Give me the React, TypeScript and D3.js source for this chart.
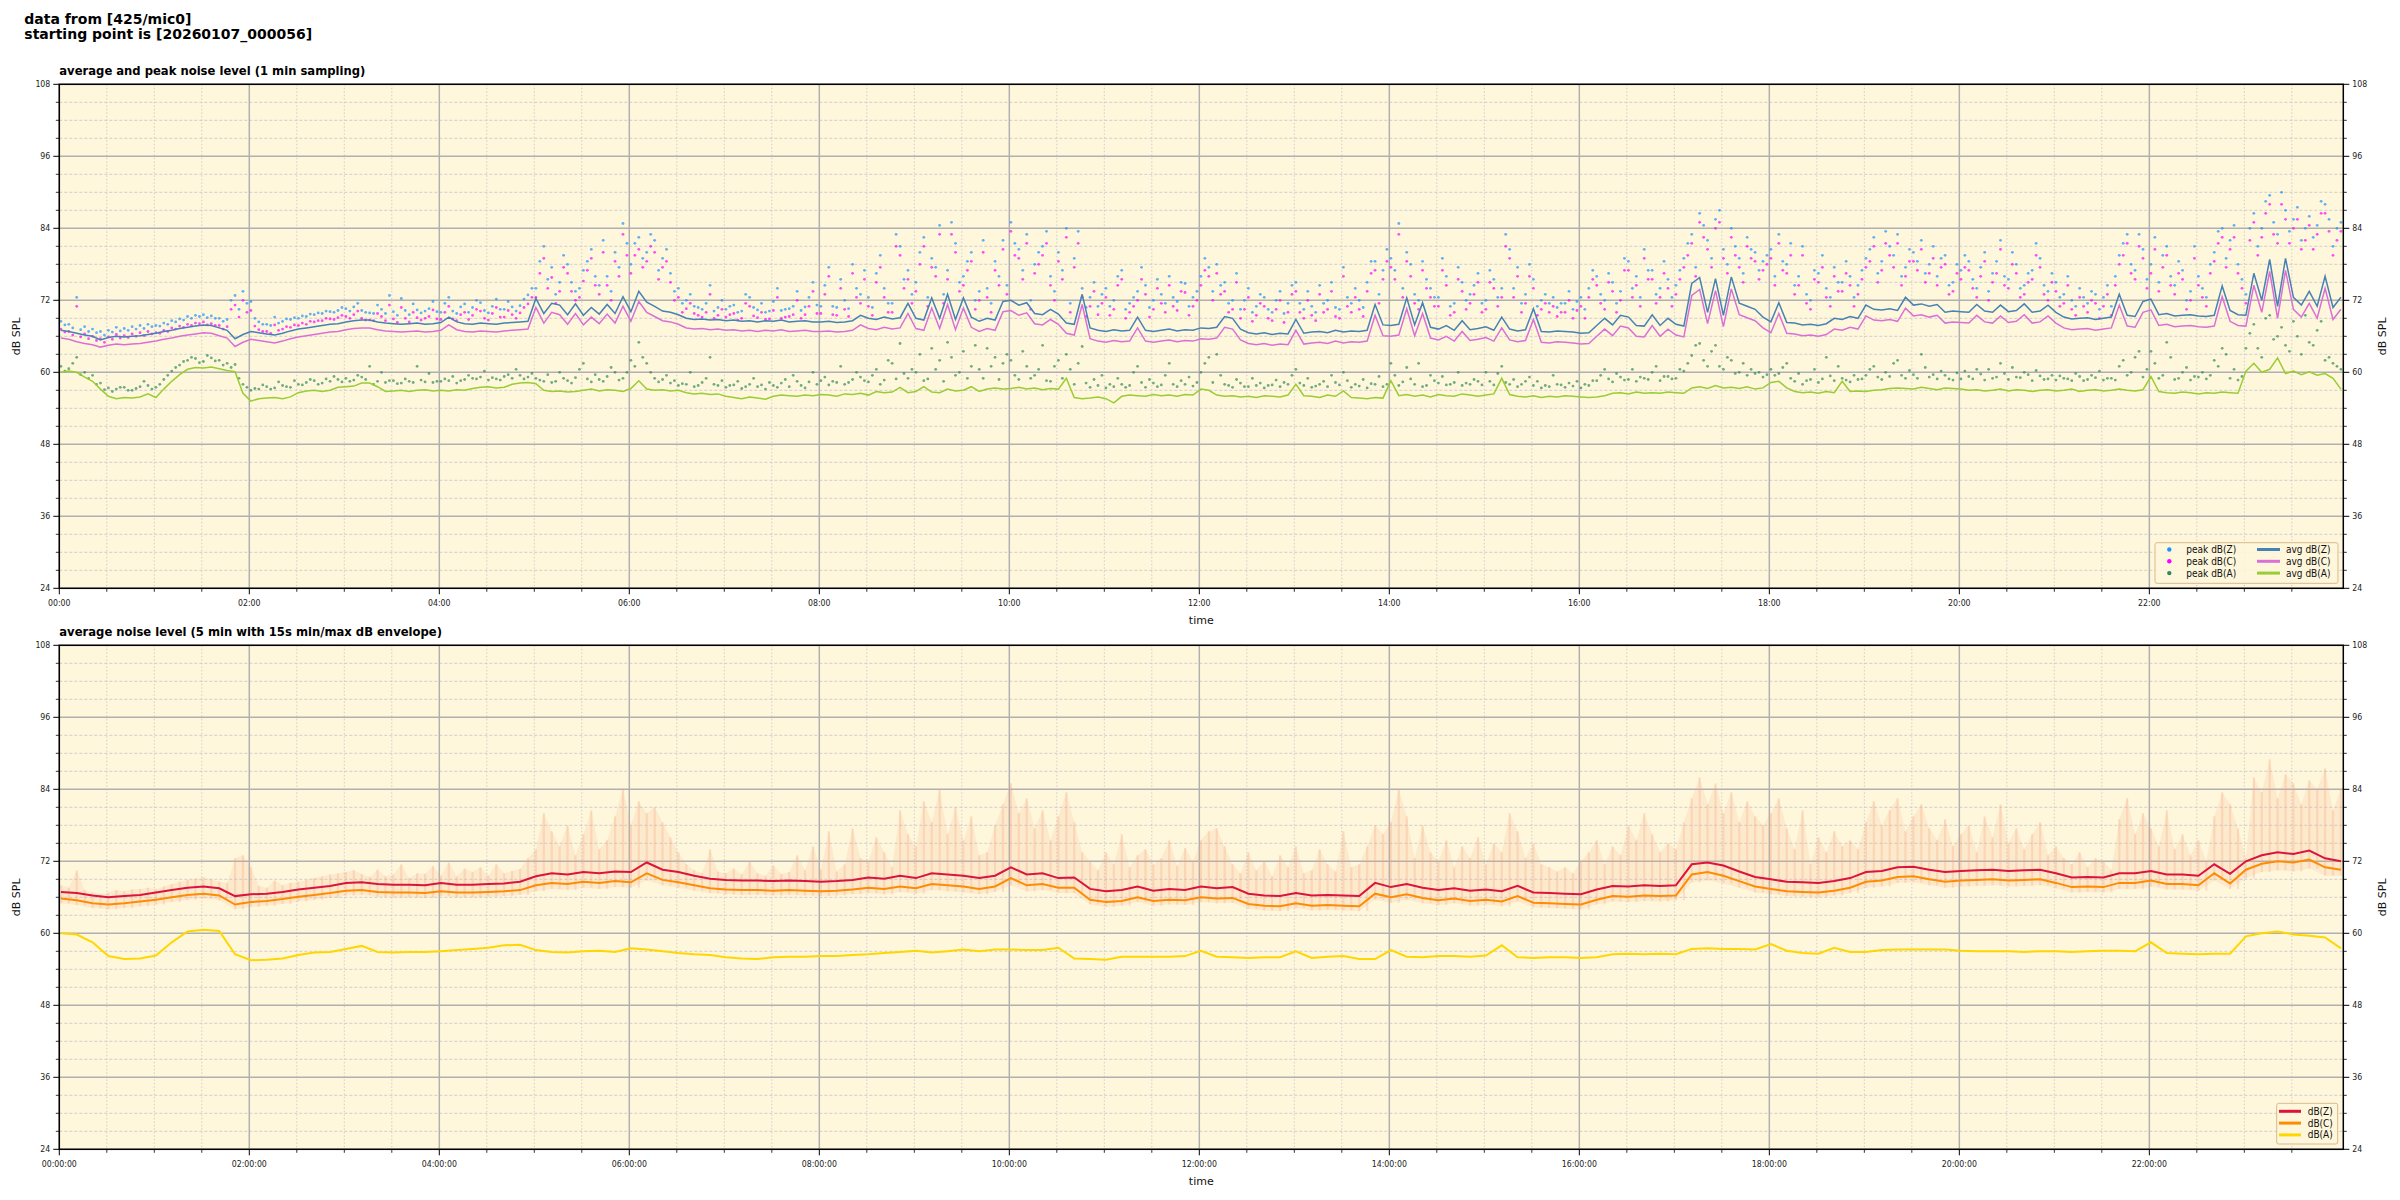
import React from "react";
import * as d3 from "d3";

// ---------------- DATA ----------------
const suptitleLines = ["data from [425/mic0]", "starting point is [20260107_000056]"];
const topTitle = "average and peak noise level (1 min sampling)";
const bottomTitle = "average noise level (5 min with 15s min/max dB envelope)";
const yTicks = [24, 36, 48, 60, 72, 84, 96, 108];
const xTickHours = [0, 2, 4, 6, 8, 10, 12, 14, 16, 18, 20, 22];

// top plot, 5-minute samples starting 00:01
const avgZ = [
  67.0, 66.8, 66.5, 66.2, 66.0, 65.4, 65.8, 66.0, 65.9, 66.0, 66.1, 66.3,
  66.5, 66.8, 67.0, 67.3, 67.5, 67.7, 67.9, 67.8, 67.4, 67.0, 65.6, 66.3,
  66.8, 66.6, 66.4, 66.2, 66.5, 66.9, 67.2, 67.4, 67.6, 67.8, 68.0, 68.1,
  68.4, 68.6, 68.7, 68.7, 68.4, 68.2, 68.1, 68.0, 68.1, 68.2, 68.0, 68.1,
  68.3, 69.2, 68.4, 68.1, 68.0, 68.2, 68.1, 68.0, 68.2, 68.3, 68.4, 68.5,
  72.3, 69.8, 71.5, 71.2, 69.6, 71.4, 69.5, 70.8, 69.7, 71.3, 69.8, 72.6,
  70.1, 73.5, 71.7, 71.0, 70.2, 70.0, 69.6, 69.0, 68.8, 68.9, 68.7, 68.8,
  68.6, 68.7, 68.5, 68.6, 68.4, 68.6, 68.5, 68.7, 68.4, 68.5, 68.6, 68.4,
  68.4, 68.5, 68.3, 68.4, 68.6, 69.5, 69.0, 68.8, 69.2, 68.9, 69.1, 71.5,
  69.0, 68.7, 72.4, 69.0, 73.0, 68.8, 72.4, 69.2, 68.5, 69.0, 68.7, 71.8,
  72.0, 71.2, 71.6, 69.8, 69.6, 70.5, 69.7, 68.2, 68.0, 73.0, 67.4, 67.0,
  66.8, 67.1, 66.9, 67.0, 69.2, 67.0, 66.8, 67.0, 67.2, 66.9, 67.1, 67.0,
  67.4, 67.3, 67.5, 69.3, 69.0, 67.2, 66.6, 66.4, 66.6, 66.3, 66.5, 66.4,
  68.8, 66.5, 66.7, 66.8, 66.6, 67.0, 66.7, 66.9, 66.8, 67.0, 71.3, 67.9,
  67.8, 68.0, 72.4, 67.9, 71.6, 67.5, 67.2, 67.8, 67.0, 68.6, 67.1, 67.3,
  67.6, 67.0, 69.2, 67.2, 66.9, 67.1, 70.6, 66.8, 66.7, 66.9, 66.8, 66.7,
  66.5, 66.6, 67.8, 69.0, 67.9, 69.5, 69.2, 67.8, 67.7, 69.6, 67.8, 69.0,
  68.0, 67.7, 74.8, 75.8, 70.0, 75.6, 69.5, 75.9, 71.5, 71.0, 70.5, 69.2,
  68.4, 71.6, 68.3, 68.2, 67.9, 68.0, 67.8, 68.1, 69.0, 68.8, 69.3, 69.0,
  71.2, 70.5, 70.4, 70.6, 70.3, 72.5, 71.2, 71.4, 71.0, 71.3, 70.0, 70.2,
  70.1, 70.0, 71.3, 70.2, 70.0, 71.2, 70.1, 70.3, 71.4, 70.0, 70.2, 71.2,
  70.0, 69.2, 68.9, 69.0, 69.1, 68.8, 69.0, 69.2, 73.0, 69.5, 69.3, 71.8,
  72.2, 69.6, 69.8, 69.4, 69.5, 69.6, 69.4, 69.3, 69.5, 74.4, 70.3, 69.6,
  69.5, 76.5, 72.0, 78.8, 71.0, 79.0, 72.5, 71.2, 73.5, 71.0, 76.0, 70.8,
  72.5,
];
const avgC = [
  65.7, 65.5, 65.1, 64.8, 64.6, 64.2, 64.5, 64.7, 64.6, 64.7, 64.8, 65.0,
  65.2, 65.5, 65.7, 66.0, 66.2, 66.4, 66.6, 66.5, 66.1, 65.7, 64.3, 65.0,
  65.5, 65.3, 65.1, 64.9, 65.2, 65.6, 65.9, 66.1, 66.3, 66.5, 66.7, 66.8,
  67.1, 67.3, 67.4, 67.4, 67.1, 66.9, 66.8, 66.7, 66.8, 66.9, 66.7, 66.8,
  67.0, 67.9, 67.1, 66.8, 66.7, 66.9, 66.8, 66.7, 66.9, 67.0, 67.1, 67.2,
  70.8, 68.2, 70.0, 69.6, 68.0, 69.8, 67.9, 69.2, 68.1, 69.7, 68.2, 71.0,
  68.5, 71.8, 70.0, 69.3, 68.6, 68.4, 68.0, 67.4, 67.2, 67.3, 67.1, 67.2,
  67.0, 67.1, 66.9, 67.0, 66.8, 67.0, 66.9, 67.1, 66.8, 66.9, 67.0, 66.8,
  66.8, 66.9, 66.7, 66.8, 67.0, 67.9, 67.3, 67.1, 67.5, 67.2, 67.4, 69.8,
  67.3, 67.0, 70.7, 67.3, 71.3, 67.1, 70.7, 67.5, 66.8, 67.3, 67.0, 70.1,
  70.3, 69.5, 69.9, 68.1, 67.9, 68.8, 68.0, 66.5, 66.2, 71.3, 65.6, 65.2,
  65.0, 65.3, 65.1, 65.2, 67.4, 65.2, 65.0, 65.2, 65.4, 65.1, 65.3, 65.2,
  65.6, 65.5, 65.7, 67.5, 67.2, 65.4, 64.8, 64.6, 64.8, 64.5, 64.7, 64.6,
  67.0, 64.7, 64.9, 65.0, 64.8, 65.2, 64.9, 65.1, 65.0, 65.2, 69.5, 66.1,
  66.0, 66.2, 70.6, 66.1, 69.8, 65.7, 65.4, 66.0, 65.2, 66.8, 65.3, 65.5,
  65.8, 65.2, 67.4, 65.4, 65.1, 65.3, 68.8, 65.0, 64.9, 65.1, 65.0, 64.9,
  64.7, 64.8, 66.0, 67.2, 66.1, 67.7, 67.4, 66.0, 65.9, 67.8, 66.0, 67.2,
  66.2, 65.9, 72.8, 73.8, 68.1, 73.6, 67.6, 73.9, 69.6, 69.1, 68.6, 67.4,
  66.6, 69.8, 66.5, 66.4, 66.1, 66.2, 66.0, 66.3, 67.2, 67.0, 67.5, 67.2,
  69.4, 68.7, 68.6, 68.8, 68.5, 70.7, 69.4, 69.6, 69.2, 69.5, 68.2, 68.4,
  68.3, 68.2, 69.5, 68.4, 68.2, 69.4, 68.3, 68.5, 69.6, 68.2, 68.4, 69.4,
  68.2, 67.4, 67.1, 67.2, 67.3, 67.0, 67.2, 67.4, 71.2, 67.7, 67.5, 70.0,
  70.4, 67.8, 68.0, 67.6, 67.7, 67.8, 67.6, 67.5, 67.7, 72.6, 68.5, 67.8,
  67.7, 74.5, 70.0, 76.8, 69.0, 77.0, 70.5, 69.2, 71.5, 69.0, 74.0, 68.8,
  70.5,
];
const avgA = [
  60.0, 60.2, 60.0, 59.2, 58.5, 57.2, 56.0, 55.6, 55.8, 55.7, 55.9, 56.4,
  55.8, 57.2, 58.5, 59.6, 60.5, 60.8, 60.7, 60.9, 60.6, 60.3, 60.1, 56.5,
  55.2, 55.6, 55.7, 55.8, 55.6, 55.9, 56.6, 56.9, 57.0, 56.8, 57.0, 57.5,
  57.6, 57.7, 58.2, 58.2, 57.6, 56.8, 56.9, 57.0, 56.8, 57.0, 57.1, 56.9,
  57.0, 56.9, 57.1, 57.0, 57.3, 57.5, 57.6, 57.4, 57.5, 58.0, 58.2, 58.3,
  58.1, 57.0, 56.8, 56.9, 56.7, 56.8, 57.0, 57.2, 56.9, 57.1, 57.0, 56.8,
  57.3, 58.6, 57.2, 57.0, 57.1, 56.9, 57.0, 56.6, 56.4, 56.5, 56.3, 56.4,
  56.0, 55.8, 55.6, 55.9, 55.7, 55.5, 56.0, 56.2, 56.1, 56.0, 56.2, 56.1,
  56.3, 56.2, 56.0, 56.4, 56.3, 56.5, 56.2, 56.8, 56.6, 56.7, 57.5, 56.6,
  56.8, 57.6, 56.7, 56.6, 57.2, 56.9, 57.0, 57.6, 56.8, 57.2, 57.4, 57.2,
  57.3, 57.5, 57.2, 57.4, 57.1, 57.3, 57.2, 59.0, 55.8, 55.6, 55.7, 55.9,
  55.6, 54.9, 56.0, 56.2, 56.1, 56.0, 56.3, 56.1, 56.2, 56.0, 56.3, 56.2,
  57.2, 57.0, 56.2, 56.0, 56.1, 55.9, 56.0, 55.8, 56.1, 56.0, 55.9, 56.2,
  58.0, 56.1, 56.0, 55.8, 56.2, 56.0, 56.9, 55.8, 55.7, 55.6, 55.8, 55.7,
  58.6, 56.1, 56.3, 56.0, 56.2, 55.9, 56.3, 56.1, 56.0, 56.4, 56.2, 56.0,
  56.2, 56.4, 59.0, 56.3, 56.0, 55.9, 56.1, 55.8, 56.0, 55.9, 56.1, 56.0,
  55.9, 55.8, 55.9, 56.1, 56.5, 56.6, 56.4, 56.7, 56.5, 56.6, 56.5, 56.7,
  56.6, 56.5, 57.4, 57.6, 57.3, 57.8, 57.4, 57.5, 57.3, 57.6, 57.2, 57.4,
  58.3, 58.5, 57.4, 56.8, 56.6, 56.7, 56.5, 56.8, 56.6, 58.5, 56.8, 56.9,
  56.8, 57.0, 57.1, 57.3, 57.4, 57.3, 57.2, 57.5, 57.3, 57.1, 57.4, 57.3,
  57.2, 57.0, 57.1, 56.9, 57.0, 57.2, 56.9, 57.1, 57.0, 56.8, 57.0, 57.1,
  56.9, 57.0, 57.2, 56.8, 57.0, 57.1, 56.9, 57.0, 57.2, 57.0, 56.9, 57.1,
  59.3, 56.8, 56.6, 56.5, 56.7, 56.6, 56.4, 56.6, 56.5, 56.7, 56.6, 56.5,
  60.2, 61.5, 60.0, 60.5, 62.4, 59.8, 60.2, 59.6, 60.1, 59.5, 59.8, 59.0,
  57.2,
];
// peaks, 5-minute steps starting 00:01
const peakZ = [
  68.5, 68.0, 72.5, 67.6, 67.2, 66.8, 67.0, 67.5, 67.3, 67.6, 67.8, 68.0,
  67.8, 68.2, 68.6, 68.9, 69.3, 69.5, 69.6, 69.4, 69.0, 68.8, 72.8, 73.5,
  71.8, 68.4, 68.0, 69.2, 68.5, 68.8, 69.0, 69.3, 69.6, 69.8, 70.1, 70.3,
  70.6, 70.9, 70.3, 69.9, 71.2, 69.8, 70.1, 72.3, 69.6, 70.4, 70.2, 71.8,
  70.0, 72.5, 69.8, 71.4, 70.8, 71.6, 69.9, 72.2, 70.5, 70.9, 71.1, 72.9,
  74.0, 81.0, 77.5, 75.0, 78.0, 73.5, 77.0, 80.5, 74.5, 76.0, 80.0, 84.8,
  78.0, 82.5, 80.0, 82.0, 79.0, 76.5, 74.0, 72.0, 71.0, 70.5, 74.5, 70.8,
  70.5, 71.2, 70.2, 72.5, 70.4, 70.0, 71.8, 70.3, 70.6, 73.5, 70.9, 75.0,
  71.0, 77.5, 70.8, 72.0, 78.0, 73.0, 72.5, 76.5, 74.0, 71.5, 81.0, 77.0,
  75.0, 82.5, 79.0, 84.5, 77.0, 81.5, 76.0, 80.0, 73.5, 74.0, 78.5, 82.0,
  85.0, 80.5, 83.0, 78.0, 81.0, 76.0, 80.0, 84.0, 79.0, 74.0, 72.5, 71.0,
  74.0, 72.0, 77.0, 71.5, 73.5, 74.5, 72.0, 73.0, 76.0, 71.8, 74.8, 72.5,
  76.0, 77.5, 78.0, 75.0, 72.0, 70.5, 74.0, 71.0, 72.5, 70.0, 73.5, 71.5,
  75.0, 70.5, 71.0, 74.5, 72.0, 70.8, 77.5, 71.5, 72.0, 75.0, 78.5, 77.0,
  79.0, 84.8, 80.0, 73.0, 78.5, 74.0, 72.5, 76.0, 71.5, 75.0, 73.0, 76.5,
  72.0, 75.5, 74.0, 80.5, 77.5, 73.0, 75.5, 72.0, 71.5, 70.8, 71.5, 70.5,
  72.5, 74.0, 76.0, 72.0, 75.0, 73.5, 78.5, 76.0, 80.5, 77.0, 74.0, 75.5,
  74.5, 79.0, 83.0, 86.5, 82.0, 85.5, 80.5, 84.0, 79.0, 82.5, 80.0, 78.5,
  80.5, 83.0, 78.0, 74.5, 81.0, 72.0, 76.5, 74.0, 77.5, 75.0, 76.0, 74.5,
  79.0, 82.5, 78.5, 81.0, 83.0, 77.5, 80.0, 82.0, 78.0, 76.0, 79.5, 75.0,
  77.0, 78.5, 74.0, 80.0, 76.5, 82.0, 75.5, 78.0, 74.5, 77.0, 79.0, 73.5,
  75.0, 73.0, 72.0, 74.0, 71.5, 73.0, 72.5, 71.0, 79.5, 83.0, 77.0, 80.5,
  78.0, 75.0, 81.0, 74.5, 77.0, 73.5, 76.0, 72.5, 80.0, 84.0, 82.0, 78.0,
  73.0, 86.5, 84.0, 89.5, 83.0, 87.0, 85.5, 82.0, 86.0, 84.5, 88.0, 81.0,
  85.0,
];
const peakC = [
  67.2, 66.8, 71.0, 66.4, 66.0, 65.6, 65.9, 66.3, 66.1, 66.4, 66.6, 66.8,
  66.6, 67.0, 67.4, 67.7, 68.0, 68.2, 68.4, 68.1, 67.8, 67.6, 71.2, 72.0,
  70.3, 67.1, 66.8, 67.9, 67.2, 67.5, 67.8, 68.0, 68.4, 68.6, 68.9, 69.1,
  69.3, 69.6, 69.0, 68.7, 69.8, 68.6, 68.9, 70.8, 68.4, 69.1, 69.0, 70.4,
  68.8, 71.0, 68.6, 70.0, 69.5, 70.2, 68.7, 70.8, 69.2, 69.6, 69.9, 71.4,
  72.5, 79.0, 75.8, 73.5, 76.5, 72.0, 75.2, 79.0, 73.0, 74.5, 78.5, 83.0,
  76.5, 80.5, 78.5, 80.0, 77.5, 75.0, 72.5, 70.6, 69.8, 69.2, 73.0, 69.5,
  69.2, 69.8, 69.0, 71.0, 69.1, 68.8, 70.3, 69.0, 69.3, 72.0, 69.6, 73.5,
  69.8, 76.0, 69.5, 70.5, 76.5, 71.5, 71.0, 75.0, 72.5, 70.0, 79.5, 75.5,
  73.5, 81.0, 77.5, 83.0, 75.5, 80.0, 74.5, 78.5, 72.0, 72.5, 77.0, 80.5,
  83.5, 79.0, 81.5, 76.5, 79.5, 74.5, 78.5, 82.5, 77.5, 72.5, 71.0, 69.6,
  72.5, 70.5, 75.5, 70.0, 72.0, 73.0, 70.5, 71.5, 74.5, 70.3, 73.3, 71.0,
  74.5, 76.0, 76.5, 73.5, 70.5, 69.0, 72.5, 69.5, 71.0, 68.6, 72.0, 70.0,
  73.5, 69.0, 69.5, 73.0, 70.5, 69.3, 76.0, 70.0, 70.5, 73.5, 77.0, 75.5,
  77.5, 83.0, 78.5, 71.5, 77.0, 72.5, 71.0, 74.5, 70.0, 73.5, 71.5, 75.0,
  70.5, 74.0, 72.5, 79.0, 76.0, 71.5, 74.0, 70.5, 70.0, 69.3, 70.0, 69.0,
  71.0, 72.5, 74.5, 70.5, 73.5, 72.0, 77.0, 74.5, 79.0, 75.5, 72.5, 74.0,
  73.0, 77.5, 81.5, 85.0, 80.5, 84.0, 79.0, 82.5, 77.5, 81.0, 78.5, 77.0,
  79.0, 81.5, 76.5, 73.0, 79.5, 70.5, 75.0, 72.5, 76.0, 73.5, 74.5, 73.0,
  77.5, 81.0, 77.0, 79.5, 81.5, 76.0, 78.5, 80.5, 76.5, 74.5, 78.0, 73.5,
  75.5, 77.0, 72.5, 78.5, 75.0, 80.5, 74.0, 76.5, 73.0, 75.5, 77.5, 72.0,
  73.5, 71.5, 70.5, 72.5, 70.0, 71.5, 71.0, 69.5, 78.0, 81.5, 75.5, 79.0,
  76.5, 73.5, 79.5, 73.0, 75.5, 72.0, 74.5, 71.0, 78.5, 82.5, 80.5, 76.5,
  71.5, 85.0, 82.5, 88.0, 81.5, 85.5, 84.0, 80.5, 84.5, 83.0, 86.5, 79.5,
  83.5,
];
const peakA = [
  61.0, 60.6, 62.5, 60.0, 59.5, 58.2, 57.4, 57.2, 57.5, 57.0, 57.6, 57.8,
  57.5, 58.8, 60.2, 61.2, 62.0, 62.3, 61.8, 62.4, 62.0, 61.5, 61.3, 58.0,
  57.0, 57.2, 57.6, 57.4, 57.8, 57.5, 58.0, 58.3, 58.6, 58.2, 58.5, 58.8,
  59.0, 58.7, 59.2, 61.0, 58.5, 58.3, 58.6, 58.2, 58.5, 61.0, 58.4, 58.3,
  58.5, 58.6, 58.2, 58.8, 59.0, 59.2, 58.7, 58.9, 59.3, 59.0, 59.5, 59.2,
  59.0, 58.5, 58.3, 60.0, 58.6, 59.1, 61.5, 58.4, 58.8, 59.3, 60.0, 59.0,
  62.0, 65.0, 61.5, 59.0, 58.8, 58.2, 57.8, 58.0, 57.6, 58.3, 62.5, 57.8,
  57.5, 57.9, 57.3, 58.0, 57.6, 57.2, 57.8, 58.2, 57.6, 58.5, 57.4, 60.0,
  58.6, 57.9, 58.3, 58.0, 58.8, 59.2, 58.4, 60.5, 58.7, 61.5, 64.8, 59.0,
  60.0, 58.6, 64.0, 62.0, 65.0, 59.5, 63.5, 61.0, 60.5, 64.0, 62.5, 61.5,
  62.0, 58.8, 61.0, 59.5, 64.5, 58.5, 62.0, 63.0, 58.0, 64.3, 57.5, 57.8,
  57.4, 57.6, 58.0, 57.8, 61.0, 57.5, 58.2, 57.9, 61.5, 57.6, 58.0, 57.7,
  60.0, 62.5, 63.0, 58.0, 57.5, 58.2, 57.6, 57.8, 57.4, 57.9, 57.6, 58.0,
  60.5, 57.8, 57.5, 58.0, 57.6, 58.3, 60.0, 57.5, 57.7, 57.4, 58.0, 57.6,
  61.5, 57.8, 60.8, 58.0, 57.6, 59.5, 58.2, 57.9, 58.3, 57.8, 58.0, 58.5,
  60.0, 57.9, 61.0, 58.0, 57.6, 58.5, 57.8, 57.4, 57.6, 58.0, 57.5, 57.7,
  57.4, 57.8, 58.6, 60.5, 58.4, 59.2, 58.8, 58.5, 59.0, 60.0, 58.6, 59.3,
  59.0, 60.2, 62.8, 64.8, 61.0, 64.5, 60.5, 62.0, 60.0, 59.5, 59.8, 59.2,
  60.5, 59.8, 61.5, 58.5, 58.0, 58.8, 58.3, 62.5, 58.6, 59.0, 58.4, 58.8,
  59.5, 61.0, 58.8, 59.3, 62.0, 59.0, 59.6, 63.0, 59.2, 58.9, 59.5, 58.7,
  58.9, 59.3, 60.5, 58.7, 59.0, 61.5, 58.8, 59.2, 60.0, 58.6, 59.4, 58.9,
  58.7, 59.0, 58.6, 59.3, 58.8, 59.1, 58.7, 59.0, 61.0, 59.5, 62.5, 59.2,
  63.5, 59.0, 65.0, 58.8, 60.0, 58.7, 59.2, 58.9, 62.0, 64.0, 59.0, 58.7,
  64.0, 68.0, 62.5, 69.5, 66.0, 64.5, 68.5, 63.0, 65.0, 67.0, 62.0, 61.5,
  60.5,
];
// peaks, 5-minute steps starting 00:03:30 (in-between samples)
const peakZb = [
  67.9, 67.4, 67.1, 66.8, 66.6, 66.2, 66.7, 66.9, 67.0, 67.2, 67.3, 67.6,
  67.7, 68.0, 68.4, 68.7, 69.0, 69.3, 69.1, 69.0, 68.5, 72.0, 70.5, 71.5,
  69.0, 68.0, 67.8, 68.2, 68.9, 69.1, 69.4, 69.7, 69.9, 70.2, 70.0, 70.8,
  70.2, 71.5, 70.0, 69.8, 70.5, 72.8, 69.5, 70.3, 71.4, 69.9, 70.6, 70.1,
  71.5, 70.2, 70.9, 70.0, 72.0, 70.3, 71.0, 70.5, 71.8, 70.2, 72.2, 74.0,
  78.5, 75.5, 73.0, 79.5, 75.0, 74.0, 78.5, 76.0, 82.0, 73.5, 77.5, 81.5,
  81.5, 79.0, 83.0, 77.0, 80.5, 73.5, 71.5, 73.0, 70.8, 71.5, 70.2, 72.0,
  71.0, 70.0, 73.0, 70.8, 71.5, 70.2, 74.0, 70.5, 71.0, 70.3, 72.5, 71.2,
  74.5, 71.0, 75.5, 70.6, 74.0, 77.0, 70.8, 79.5, 71.5, 83.0, 75.5, 73.0,
  80.0, 72.5, 77.5, 73.0, 85.0, 75.0, 78.5, 72.0, 82.0, 71.5, 76.0, 74.5,
  81.5, 77.0, 72.0, 80.0, 83.5, 73.5, 77.0, 71.5, 83.5, 70.8, 75.0, 73.0,
  71.0, 76.0, 70.5, 72.5, 77.5, 70.8, 75.5, 71.5, 72.5, 75.0, 71.0, 73.5,
  79.0, 73.5, 74.5, 71.5, 76.5, 72.0, 70.0, 73.0, 70.5, 72.0, 69.8, 74.5,
  71.5, 73.5, 70.0, 71.5, 75.0, 70.5, 72.5, 74.0, 70.8, 78.5, 73.0, 80.5,
  77.0, 74.0, 78.0, 72.0, 75.5, 72.5, 79.0, 71.0, 77.5, 72.0, 74.5, 71.5,
  77.0, 72.5, 83.0, 74.0, 71.5, 78.0, 71.0, 73.0, 72.5, 71.5, 73.5, 71.8,
  70.5, 77.0, 73.0, 76.5, 71.5, 79.0, 74.0, 72.5, 77.0, 73.0, 78.5, 72.5,
  77.0, 81.5, 77.5, 84.5, 79.0, 87.0, 78.0, 81.0, 76.5, 80.5, 77.0, 79.5,
  76.0, 78.5, 81.5, 76.0, 73.0, 77.0, 79.5, 72.5, 75.0, 78.5, 72.5, 77.0,
  80.5, 76.5, 83.5, 79.5, 76.0, 80.5, 78.5, 76.5, 81.0, 79.0, 74.5, 78.0,
  79.5, 75.5, 77.5, 73.5, 78.5, 76.0, 80.0, 74.0, 76.5, 81.5, 74.5, 76.5,
  72.5, 76.0, 71.0, 72.5, 73.5, 70.5, 74.5, 76.0, 81.5, 78.0, 83.0, 75.5,
  82.5, 79.5, 76.0, 78.5, 72.0, 81.0, 74.0, 78.0, 83.5, 79.0, 84.5, 75.5,
  84.0, 81.0, 88.5, 85.0, 90.0, 83.5, 87.5, 84.0, 82.5, 88.5, 85.5, 84.0,
];
const peakCb = [
  66.7, 66.2, 65.9, 65.6, 65.3, 65.0, 65.5, 65.7, 65.8, 66.0, 66.1, 66.4,
  66.5, 66.8, 67.2, 67.5, 67.8, 68.1, 67.9, 67.8, 67.2, 70.5, 69.2, 70.0,
  67.7, 66.8, 66.5, 67.0, 67.6, 67.9, 68.2, 68.5, 68.6, 69.0, 68.8, 69.5,
  69.0, 70.2, 68.7, 68.6, 69.3, 71.2, 68.3, 69.0, 70.0, 68.7, 69.3, 68.9,
  70.0, 68.9, 69.6, 68.8, 70.5, 69.0, 69.8, 69.2, 70.3, 69.0, 70.8, 72.5,
  76.5, 74.0, 71.5, 77.5, 73.5, 72.5, 77.0, 74.5, 80.0, 72.0, 76.0, 79.5,
  79.5, 77.5, 81.0, 75.5, 78.5, 72.0, 70.0, 71.5, 69.5, 70.0, 69.0, 70.5,
  69.6, 68.7, 71.5, 69.4, 70.0, 68.9, 72.5, 69.2, 69.6, 69.0, 71.0, 69.8,
  73.0, 69.6, 74.0, 69.3, 72.5, 75.5, 69.5, 77.5, 70.0, 81.0, 74.0, 71.5,
  78.0, 71.0, 76.0, 71.5, 83.0, 73.5, 77.0, 70.5, 80.0, 70.0, 74.5, 73.0,
  79.5, 75.5, 70.5, 78.0, 81.5, 72.0, 75.5, 70.0, 81.5, 69.3, 73.5, 71.5,
  69.5, 74.5, 69.0, 71.0, 75.5, 69.2, 74.0, 70.0, 71.0, 73.5, 69.5, 72.0,
  77.0, 72.0, 73.0, 70.0, 75.0, 70.5, 68.5, 71.5, 69.0, 70.5, 68.3, 73.0,
  70.0, 72.0, 68.6, 70.0, 73.5, 69.0, 71.0, 72.5, 69.3, 76.5, 71.5, 78.5,
  75.5, 72.5, 76.0, 70.5, 74.0, 71.0, 77.0, 69.5, 75.5, 70.5, 73.0, 70.0,
  75.0, 71.0, 81.0, 72.5, 70.0, 76.0, 69.5, 71.5, 71.0, 70.0, 72.0, 70.3,
  69.0, 75.5, 71.5, 75.0, 70.0, 77.0, 72.5, 71.0, 75.5, 71.5, 76.5, 71.0,
  75.5, 79.5, 76.0, 82.5, 77.5, 85.0, 76.5, 79.5, 75.0, 79.0, 75.5, 78.0,
  74.5, 77.0, 79.5, 74.5, 71.5, 75.5, 77.5, 71.0, 73.5, 76.5, 71.0, 75.5,
  78.5, 75.0, 81.5, 77.5, 74.5, 78.5, 77.0, 75.0, 79.0, 77.5, 73.0, 76.5,
  77.5, 74.0, 76.0, 72.0, 76.5, 74.5, 78.0, 72.5, 75.0, 79.5, 73.0, 75.0,
  71.0, 74.5, 69.5, 71.0, 72.0, 69.0, 73.0, 74.5, 79.5, 76.5, 81.0, 74.0,
  80.5, 77.5, 74.5, 76.5, 70.5, 79.0, 72.5, 76.5, 81.5, 77.5, 82.5, 74.0,
  82.0, 79.5, 86.5, 83.0, 88.0, 81.5, 85.5, 82.0, 80.5, 86.5, 83.5, 82.0,
];
const peakAb = [
  60.2, 61.5, 59.6, 59.0, 58.0, 57.1, 56.8, 57.5, 57.0, 57.3, 58.5, 57.2,
  58.0, 59.5, 60.8, 61.8, 62.5, 61.6, 62.8, 61.9, 61.2, 60.8, 59.0, 57.5,
  57.3, 57.9, 57.2, 58.4, 57.6, 58.6, 57.9, 58.8, 58.0, 58.9, 59.3, 58.4,
  58.5, 59.5, 58.8, 58.0, 60.0, 58.6, 58.1, 58.9, 58.3, 58.7, 59.8, 58.5,
  58.9, 59.3, 58.6, 59.5, 58.9, 60.2, 59.1, 58.7, 59.6, 60.5, 58.9, 59.8,
  58.7, 59.6, 58.5, 59.0, 58.2, 60.5, 58.9, 59.6, 58.5, 60.8, 58.7, 60.0,
  61.0, 62.5, 60.0, 58.4, 59.5, 58.6, 58.1, 60.0, 57.8, 59.0, 58.0, 58.6,
  57.8, 58.5, 57.6, 59.0, 57.9, 58.3, 57.5, 58.8, 59.5, 57.8, 58.4, 58.0,
  59.2, 58.5, 61.0, 58.3, 60.0, 58.6, 59.5, 58.0, 62.0, 58.9, 59.8, 60.5,
  63.0, 58.9, 60.5, 58.5, 62.5, 60.0, 59.0, 64.5, 59.0, 61.0, 58.8, 63.0,
  59.5, 63.5, 59.0, 60.5, 58.6, 61.0, 59.0, 60.5, 61.5, 58.2, 58.8, 59.5,
  58.0, 59.0, 57.5, 60.0, 58.3, 58.8, 57.6, 59.5, 58.0, 58.6, 59.2, 58.3,
  61.5, 58.3, 59.5, 57.8, 58.8, 57.6, 59.0, 58.2, 57.8, 58.7, 58.3, 59.5,
  58.2, 59.0, 57.7, 58.5, 59.5, 57.9, 58.6, 58.0, 58.8, 58.1, 59.3, 58.0,
  59.5, 58.4, 58.9, 61.5, 57.8, 58.6, 59.3, 58.0, 60.0, 58.2, 58.8, 57.9,
  58.5, 59.8, 58.3, 58.8, 58.0, 59.2, 58.5, 57.8, 59.5, 57.9, 58.2, 58.5,
  58.0, 58.6, 59.5, 58.9, 59.8, 58.7, 60.5, 59.2, 58.8, 61.0, 59.3, 58.9,
  60.5, 61.5, 64.5, 62.0, 63.5, 61.0, 62.5, 59.8, 61.5, 60.5, 60.0, 59.6,
  59.5, 60.8, 59.0, 59.8, 58.6, 60.5, 58.9, 59.4, 61.0, 58.7, 59.5, 58.9,
  60.5, 59.2, 60.0, 61.5, 59.5, 60.3, 59.0, 60.8, 59.6, 60.2, 58.9, 59.9,
  60.2, 58.9, 59.7, 60.5, 59.2, 59.8, 60.8, 59.1, 59.6, 60.3, 58.8, 59.5,
  59.4, 58.9, 59.8, 58.6, 59.5, 60.2, 59.0, 58.7, 62.0, 60.0, 63.5, 60.5,
  61.5, 59.5, 62.5, 59.0, 60.8, 59.3, 60.0, 59.5, 61.0, 63.0, 60.5, 59.3,
  66.5, 64.0, 69.0, 65.5, 67.5, 63.5, 66.0, 69.5, 64.5, 68.5, 62.5, 61.0,
];

// bottom plot, 10-minute samples starting 00:01
const botZ = [
  66.9, 66.7, 66.3, 66.0, 66.2, 66.4, 66.8, 67.2, 67.6, 67.8, 67.5, 66.2,
  66.5, 66.6, 66.9, 67.3, 67.6, 67.9, 68.4, 68.5, 68.2, 68.1, 68.1, 68.0,
  68.4, 68.1, 68.1, 68.2, 68.3, 68.6, 69.5, 70.0, 69.8, 70.2, 70.0, 70.3,
  70.2, 71.8, 70.6, 70.2, 69.6, 69.1, 68.9, 68.8, 68.8, 68.7, 68.8, 68.7,
  68.6, 68.7, 68.9, 69.3, 69.1, 69.6, 69.2, 70.0, 69.8, 69.6, 69.2, 69.6,
  71.0, 69.8, 70.0, 69.2, 69.3, 67.4, 67.0, 67.2, 67.8, 67.1, 67.4, 67.2,
  67.8, 67.5, 67.7, 66.6, 66.3, 66.2, 66.7, 66.3, 66.4, 66.3, 66.2, 68.4,
  67.7, 68.2, 67.6, 67.2, 67.5, 67.1, 67.3, 67.0, 67.9, 66.8, 66.7, 66.6,
  66.5, 67.3, 67.9, 67.8, 68.0, 67.9, 68.0, 71.5, 71.8, 71.3, 70.3, 69.4,
  69.0, 68.6, 68.5, 68.4, 68.7, 69.2, 70.2, 70.4, 71.0, 71.1, 70.6, 70.2,
  70.4, 70.5, 70.6, 70.4, 70.5, 70.6, 70.0, 69.3, 69.4, 69.3, 70.0, 70.0,
  70.4, 69.8, 69.8, 69.6, 71.5, 69.9, 72.0, 73.0, 73.5, 73.2, 73.8, 72.5,
  72.0,
];
const botC = [
  65.8, 65.5, 65.0, 64.8, 65.0, 65.3, 65.6, 66.0, 66.4, 66.6, 66.3, 64.8,
  65.2, 65.4, 65.7, 66.1, 66.4, 66.7, 67.1, 67.2, 66.9, 66.8, 66.8, 66.7,
  67.0, 66.8, 66.8, 66.9, 67.0, 67.2, 68.0, 68.4, 68.2, 68.6, 68.4, 68.7,
  68.5, 70.0, 68.9, 68.5, 68.0, 67.5, 67.3, 67.2, 67.2, 67.1, 67.2, 67.1,
  67.0, 67.1, 67.3, 67.6, 67.4, 67.8, 67.5, 68.2, 68.0, 67.8, 67.4, 67.8,
  69.2, 68.0, 68.2, 67.6, 67.6, 65.6, 65.2, 65.4, 66.0, 65.4, 65.6, 65.5,
  66.0, 65.8, 65.9, 64.9, 64.6, 64.5, 65.0, 64.6, 64.7, 64.6, 64.5, 66.6,
  66.0, 66.5, 65.9, 65.5, 65.8, 65.4, 65.6, 65.3, 66.2, 65.1, 65.0, 64.9,
  64.8, 65.6, 66.2, 66.1, 66.3, 66.2, 66.3, 69.8, 70.2, 69.6, 68.7, 67.8,
  67.4, 67.0, 66.9, 66.8, 67.1, 67.6, 68.6, 68.8, 69.4, 69.5, 69.0, 68.6,
  68.8, 68.9, 69.0, 68.8, 68.9, 69.0, 68.4, 67.7, 67.8, 67.7, 68.4, 68.4,
  68.8, 68.2, 68.2, 68.0, 70.0, 68.3, 70.6, 71.6, 72.0, 71.8, 72.3, 71.0,
  70.6,
];
const botA = [
  60.0, 59.8, 58.5, 56.2, 55.7, 55.8, 56.3, 58.5, 60.3, 60.6, 60.4, 56.5,
  55.5, 55.6, 55.8, 56.4, 56.8, 56.9, 57.4, 57.9, 56.9, 56.8, 56.9, 56.9,
  57.0, 57.2, 57.4, 57.6, 58.0, 58.1, 57.2, 56.9, 56.8, 57.0, 57.1, 56.9,
  57.5, 57.3, 57.0, 56.7, 56.5, 56.4, 56.0, 55.8, 55.7, 56.0, 56.1, 56.1,
  56.2, 56.2, 56.4, 56.5, 56.7, 56.9, 57.1, 56.8, 57.0, 57.3, 57.0, 57.3,
  57.3, 57.2, 57.2, 57.6, 55.8, 55.7, 55.6, 56.1, 56.1, 56.1, 56.1, 56.2,
  57.1, 56.1, 56.0, 55.9, 56.0, 56.0, 57.0, 55.9, 56.1, 56.2, 55.7, 55.7,
  57.2, 56.1, 56.0, 56.2, 56.2, 56.1, 56.3, 58.0, 56.0, 55.9, 56.0, 56.0,
  55.9, 56.0, 56.5, 56.6, 56.5, 56.6, 56.5, 57.4, 57.5, 57.4, 57.4, 57.3,
  58.2, 57.1, 56.7, 56.6, 57.6, 56.9, 56.9, 57.2, 57.3, 57.3, 57.3, 57.3,
  57.1, 57.0, 57.0, 57.0, 56.9, 57.0, 57.0, 56.9, 57.0, 57.1, 57.1, 57.0,
  58.5, 56.7, 56.6, 56.5, 56.6, 56.6, 59.5, 60.0, 60.3, 59.8, 59.6, 59.3,
  57.5,
];
// 15 s max envelope (5-minute steps) and min envelope (10-minute steps)
const envMax = [
  68.0, 67.6, 70.5, 67.2, 66.8, 66.5, 66.8, 67.2, 67.0, 67.3, 67.4, 67.6,
  67.4, 67.8, 68.2, 68.6, 68.9, 69.1, 69.3, 69.0, 68.6, 68.4, 72.5, 73.0,
  71.0, 67.9, 67.6, 68.8, 68.0, 68.4, 68.6, 68.9, 69.2, 69.5, 69.8, 70.0,
  70.2, 70.5, 69.9, 69.4, 70.6, 69.5, 69.8, 71.5, 69.2, 70.0, 69.9, 71.2,
  69.6, 71.8, 69.5, 70.8, 70.2, 71.0, 69.6, 71.5, 70.0, 70.4, 70.7, 72.5,
  74.0, 80.0, 77.0, 74.5, 78.0, 73.0, 76.5, 80.5, 74.0, 75.5, 79.5, 84.0,
  78.0, 82.0, 80.0, 81.0, 78.5, 76.0, 73.5, 71.5, 70.5, 70.0, 74.0, 70.3,
  70.0, 70.8, 69.8, 72.0, 70.0, 69.6, 71.3, 69.9, 70.2, 73.0, 70.5, 74.5,
  70.6, 77.0, 70.3, 71.5, 77.5, 72.5, 72.0, 76.0, 73.5, 71.0, 80.5, 76.5,
  74.5, 82.0, 78.5, 84.0, 76.5, 81.0, 75.5, 79.5, 73.0, 73.5, 78.0, 81.5,
  85.0, 80.0, 82.5, 77.5, 80.5, 75.5, 79.5, 83.5, 78.5, 73.5, 72.0, 70.5,
  73.5, 71.5, 76.5, 71.0, 73.0, 74.0, 71.5, 72.5, 75.5, 71.2, 74.2, 72.0,
  75.5, 77.0, 77.5, 74.5, 71.5, 70.0, 73.5, 70.5, 72.0, 69.5, 73.0, 71.0,
  74.5, 70.0, 70.5, 74.0, 71.5, 70.3, 77.0, 71.0, 71.5, 74.5, 78.0, 76.5,
  78.5, 84.0, 79.5, 72.5, 78.0, 73.5, 72.0, 75.5, 71.0, 74.5, 72.5, 76.0,
  71.5, 75.0, 73.5, 80.0, 77.0, 72.5, 75.0, 71.5, 71.0, 70.3, 71.0, 70.0,
  72.0, 73.5, 75.5, 71.5, 74.5, 73.0, 78.0, 75.5, 80.0, 76.5, 73.5, 75.0,
  74.0, 78.5, 82.5, 86.0, 81.5, 85.0, 80.0, 83.5, 78.5, 82.0, 79.5, 78.0,
  80.0, 82.5, 77.5, 74.0, 80.5, 71.5, 76.0, 73.5, 77.0, 74.5, 75.5, 74.0,
  78.5, 82.0, 78.0, 80.5, 82.5, 77.0, 79.5, 81.5, 77.5, 75.5, 79.0, 74.5,
  76.5, 78.0, 73.5, 79.5, 76.0, 81.5, 75.0, 77.5, 74.0, 76.5, 78.5, 73.0,
  74.5, 72.5, 71.5, 73.5, 71.0, 72.5, 72.0, 70.5, 79.0, 82.5, 76.5, 80.0,
  77.5, 74.5, 80.5, 74.0, 76.5, 73.0, 75.5, 72.0, 79.5, 83.5, 81.5, 77.5,
  72.5, 86.0, 83.5, 89.0, 82.5, 86.5, 85.0, 81.5, 85.5, 84.0, 87.5, 80.5,
  84.0,
];
const envMin = [
  65.0, 64.7, 64.2, 64.0, 64.2, 64.5, 64.8, 65.2, 65.6, 65.8, 65.5, 64.0,
  64.4, 64.6, 64.9, 65.3, 65.6, 65.9, 66.3, 66.4, 66.1, 66.0, 66.0, 65.9,
  66.2, 66.0, 66.0, 66.1, 66.2, 66.4, 67.0, 67.4, 67.2, 67.6, 67.4, 67.7,
  67.6, 68.8, 68.0, 67.6, 67.1, 66.7, 66.5, 66.4, 66.4, 66.3, 66.4, 66.3,
  66.2, 66.3, 66.5, 66.7, 66.5, 66.9, 66.6, 67.2, 67.0, 66.8, 66.5, 66.9,
  68.0, 67.0, 67.2, 66.7, 66.7, 64.8, 64.4, 64.6, 65.2, 64.6, 64.8, 64.7,
  65.2, 65.0, 65.1, 64.1, 63.8, 63.7, 64.2, 63.8, 63.9, 63.8, 63.7, 65.6,
  65.1, 65.6, 65.0, 64.7, 65.0, 64.6, 64.8, 64.5, 65.3, 64.3, 64.2, 64.1,
  64.0, 64.8, 65.3, 65.2, 65.4, 65.3, 65.5, 68.5, 68.8, 68.3, 67.6, 66.8,
  66.5, 66.2, 66.1, 66.0, 66.3, 66.7, 67.6, 67.8, 68.4, 68.5, 68.0, 67.6,
  67.8, 67.9, 68.0, 67.8, 67.9, 68.0, 67.5, 66.8, 66.9, 66.8, 67.4, 67.4,
  67.8, 67.3, 67.3, 67.1, 68.8, 67.4, 69.2, 70.2, 70.5, 70.3, 70.8, 69.6,
  69.6,
];

// ---------------- LAYOUT ----------------
const W = 2400;
const H = 1200;
const X0 = 59.3;
const X1 = 2343.3;
const topPanel = { top: 84.3, bottom: 588.3 };
const botPanel = { top: 645.3, bottom: 1149.3 };
const START_MIN = 1; // first sample at 00:01
const FONT = "'DejaVu Sans', sans-serif";
const TICKFONT = "'DejaVu Sans Condensed', 'DejaVu Sans', sans-serif";
const BG = "#fff7dc";
const MAJOR = "#b0b0b0";
const MINOR = "#c8c8c8";
const ENV = "#f4a582";

const x = d3.scaleLinear().domain([0, 1442.5]).range([X0, X1]);

function pad(n: number) {
  return n < 10 ? "0" + n : "" + n;
}

function Panel({ p, longLabels, children, title }: any) {
  const y = d3.scaleLinear().domain([24, 108]).range([p.bottom, p.top]);
  const minorY = d3.range(24, 108.01, 3).filter((v) => v % 12 !== 0);
  const minorX = d3.range(30, 1442, 30).filter((v) => v % 120 !== 0);
  const majorX = xTickHours.map((h) => h * 60);
  const midY = (p.top + p.bottom) / 2;
  return (
    <g>
      <rect x={X0} y={p.top} width={X1 - X0} height={p.bottom - p.top} fill={BG} />
      {minorY.map((v) => (
        <line key={"my" + v} x1={X0} x2={X1} y1={y(v)} y2={y(v)} stroke={MINOR} strokeWidth={0.9} strokeDasharray="3,2" />
      ))}
      {minorX.map((v) => (
        <line key={"mx" + v} x1={x(v)} x2={x(v)} y1={p.top} y2={p.bottom} stroke={MINOR} strokeWidth={0.9} strokeDasharray="1.5,2" />
      ))}
      {yTicks.map((v) => (
        <line key={"My" + v} x1={X0} x2={X1} y1={y(v)} y2={y(v)} stroke={MAJOR} strokeWidth={1.5} />
      ))}
      {majorX.map((v) => (
        <line key={"Mx" + v} x1={x(v)} x2={x(v)} y1={p.top} y2={p.bottom} stroke={MAJOR} strokeWidth={1.5} />
      ))}
      {children(y)}
      <rect x={X0} y={p.top} width={X1 - X0} height={p.bottom - p.top} fill="none" stroke="#000" strokeWidth={1.5} />
      {yTicks.map((v) => (
        <g key={"yt" + v}>
          <line x1={X0 - 6} x2={X0} y1={y(v)} y2={y(v)} stroke="#000" strokeWidth={1} />
          <line x1={X1} x2={X1 + 6} y1={y(v)} y2={y(v)} stroke="#000" strokeWidth={1} />
          <text x={X0 - 9} y={y(v)} dy="0.35em" textAnchor="end" fontSize={8.7} fontFamily={TICKFONT} fill="#222">
            {v}
          </text>
          <text x={X1 + 9} y={y(v)} dy="0.35em" textAnchor="start" fontSize={8.7} fontFamily={TICKFONT} fill="#222">
            {v}
          </text>
        </g>
      ))}
      {minorY.map((v) => (
        <g key={"ymt" + v}>
          <line x1={X0 - 3.5} x2={X0} y1={y(v)} y2={y(v)} stroke="#000" strokeWidth={0.8} />
          <line x1={X1} x2={X1 + 3.5} y1={y(v)} y2={y(v)} stroke="#000" strokeWidth={0.8} />
        </g>
      ))}
      {majorX.map((v) => (
        <g key={"xt" + v}>
          <line x1={x(v)} x2={x(v)} y1={p.bottom} y2={p.bottom + 6} stroke="#000" strokeWidth={1} />
          <text x={x(v)} y={p.bottom + 15} dy="0.35em" textAnchor="middle" fontSize={8.7} fontFamily={TICKFONT} fill="#222">
            {pad(v / 60) + ":00" + (longLabels ? ":00" : "")}
          </text>
        </g>
      ))}
      {minorX.map((v) => (
        <line key={"xmt" + v} x1={x(v)} x2={x(v)} y1={p.bottom} y2={p.bottom + 3.5} stroke="#000" strokeWidth={0.8} />
      ))}
      <text x={(X0 + X1) / 2} y={p.bottom + 36} textAnchor="middle" fontSize={11} fontFamily={FONT} fill="#111">
        time
      </text>
      <text transform={`translate(19.5,${midY}) rotate(-90)`} textAnchor="middle" fontSize={11} fontFamily={FONT} fill="#111">
        dB SPL
      </text>
      <text transform={`translate(2386,${midY}) rotate(-90)`} textAnchor="middle" fontSize={11} fontFamily={FONT} fill="#111">
        dB SPL
      </text>
      <text x={X0} y={p.top - 9.5} fontSize={11.6} fontWeight="bold" fontFamily={FONT} fill="#000">
        {title}
      </text>
    </g>
  );
}

export default function App() {
  const t5 = (i: number) => START_MIN + i * 5;
  const t5b = (i: number) => START_MIN + 2.5 + i * 5;
  const t10 = (i: number) => START_MIN + i * 10;

  const topSeries = [
    { name: "avg dB(Z)", data: avgZ, color: "#4682b4" },
    { name: "avg dB(C)", data: avgC, color: "#da70d6" },
    { name: "avg dB(A)", data: avgA, color: "#9acd32" },
  ];
  const peakSeries = [
    { name: "peak dB(Z)", data: peakZ, data2: peakZb, color: "#1e90ff" },
    { name: "peak dB(C)", data: peakC, data2: peakCb, color: "#ff00ff" },
    { name: "peak dB(A)", data: peakA, data2: peakAb, color: "#2e8b57" },
  ];
  const botSeries = [
    { name: "dB(Z)", data: botZ, color: "#dc143c" },
    { name: "dB(C)", data: botC, color: "#ff8c00" },
    { name: "dB(A)", data: botA, color: "#ffd700" },
  ];

  return (
    <svg width={W} height={H} style={{ position: "absolute", left: 0, top: 0, background: "#fff" }}>
      <rect width={W} height={H} fill="#fff" />
      <text x={24.3} y={23.5} fontSize={14} fontWeight="bold" fontFamily={FONT} fill="#000">
        {suptitleLines[0]}
      </text>
      <text x={24.3} y={38.5} fontSize={14} fontWeight="bold" fontFamily={FONT} fill="#000">
        {suptitleLines[1]}
      </text>

      <Panel p={topPanel} longLabels={false} title={topTitle}>
        {(y: any) => {
          const line = d3
            .line<number>()
            .x((_, i) => x(t5(i)))
            .y((d) => y(d));
          return (
            <g>
              {peakSeries
                .slice()
                .reverse()
                .map((s) => (
                  <g key={s.name} fill={s.color} fillOpacity={0.7}>
                    {s.data.map((d, i) => (
                      <circle key={"a" + i} cx={x(t5(i))} cy={y(d)} r={1.4} />
                    ))}
                    {s.data2.map((d, i) => (
                      <circle key={"b" + i} cx={x(t5b(i))} cy={y(d)} r={1.4} />
                    ))}
                  </g>
                ))}
              {topSeries
                .slice()
                .reverse()
                .map((s) => (
                  <path key={s.name} d={line(s.data) || ""} fill="none" stroke={s.color} strokeWidth={1.5} />
                ))}
              <g>
                <rect x={2155} y={542.7} width={183} height={40.6} rx={2} fill={BG} fillOpacity={0.85} stroke="#d9b98c" strokeWidth={1} />
                {peakSeries.map((s, i) => (
                  <g key={s.name}>
                    <circle cx={2169.3} cy={549.5 + i * 11.8} r={2.2} fill={s.color} />
                    <text x={2186.3} y={549.5 + i * 11.8} dy="0.35em" fontSize={10} fontFamily={TICKFONT} fill="#111">
                      {s.name}
                    </text>
                  </g>
                ))}
                {topSeries.map((s, i) => (
                  <g key={s.name}>
                    <line x1={2257} x2={2280} y1={549.5 + i * 11.8} y2={549.5 + i * 11.8} stroke={s.color} strokeWidth={3} />
                    <text x={2286} y={549.5 + i * 11.8} dy="0.35em" fontSize={10} fontFamily={TICKFONT} fill="#111">
                      {s.name}
                    </text>
                  </g>
                ))}
              </g>
            </g>
          );
        }}
      </Panel>

      <Panel p={botPanel} longLabels={true} title={bottomTitle}>
        {(y: any) => {
          const line = d3
            .line<number>()
            .x((_, i) => x(t10(i)))
            .y((d) => y(d));
          const upper: [number, number][] = envMax.map((d, i) => [x(t5(i)), y(d)]);
          const lower: [number, number][] = envMin.map((d, i) => [x(t10(i)), y(d)]).reverse() as [number, number][];
          const envPath = d3.line()([...upper, ...lower]) + "Z";
          return (
            <g>
              <path d={envPath} fill={ENV} fillOpacity={0.16} stroke="none" />
              <g stroke={ENV} strokeOpacity={0.3} strokeWidth={2.2}>
                {envMax.map((d, i) => (
                  <line
                    key={i}
                    x1={x(t5(i))}
                    x2={x(t5(i))}
                    y1={y(d)}
                    y2={y(envMin[Math.min(envMin.length - 1, Math.floor(i / 2))])}
                  />
                ))}
              </g>
              {botSeries
                .slice()
                .reverse()
                .map((s) => (
                  <path key={s.name} d={line(s.data) || ""} fill="none" stroke={s.color} strokeWidth={2} />
                ))}
              <g>
                <rect x={2276.7} y={1103.3} width={61} height={40.7} rx={2} fill={BG} fillOpacity={0.85} stroke="#d9b98c" strokeWidth={1} />
                {botSeries.map((s, i) => (
                  <g key={s.name}>
                    <line x1={2279} x2={2301} y1={1111.3 + i * 11.8} y2={1111.3 + i * 11.8} stroke={s.color} strokeWidth={3} />
                    <text x={2307.7} y={1111.3 + i * 11.8} dy="0.35em" fontSize={10} fontFamily={TICKFONT} fill="#111">
                      {s.name}
                    </text>
                  </g>
                ))}
              </g>
            </g>
          );
        }}
      </Panel>
    </svg>
  );
}
